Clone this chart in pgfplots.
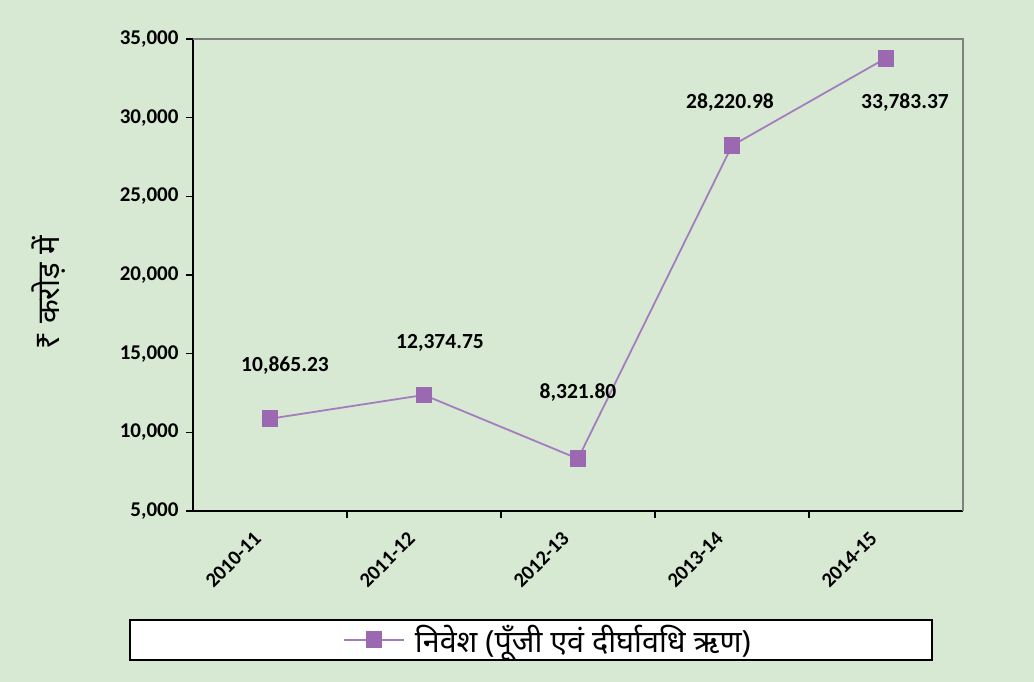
\documentclass[border=0pt]{standalone}
\usepackage{pgfplots}
\pgfplotsset{compat=1.18}
\usepackage{pgfplotstable}
\usepackage{fontspec}
\setmainfont{Carlito}
\newfontfamily\deva[Script=Devanagari]{Noto Sans}
\definecolor{bgc}{RGB}{215,232,211}
\definecolor{mk}{RGB}{155,105,178}
\definecolor{ln}{RGB}{165,125,190}
\pgfplotstableread{
x y lbl dx dy
0 10865.23 {10,865.23} 15 53
1 12374.75 {12,374.75} 16 52
2 8321.80 {8,321.80} 0 66
3 28220.98 {28,220.98} -2 43
4 33783.37 {33,783.37} 19 -44
}\datatab
\begin{document}
\begin{tikzpicture}[x=1pt,y=1pt]
\fill[bgc] (0,0) rectangle (1034,682);
\fill[white] (130,22) rectangle (932,62);
\draw[black, line width=1.6pt] (130,22) rectangle (932,62);
\begin{axis}[
  at={(193pt,171pt)}, anchor=south west,
  scale only axis, width=770pt, height=472pt,
  xmin=-0.5, xmax=4.5, ymin=5000, ymax=35000,
  axis x line*=bottom, axis y line*=left,
  axis line style={black, line width=1.4pt},
  xtick={0,1,2,3,4},
  xticklabels={2010-11,2011-12,2012-13,2013-14,2014-15},
  major x tick style={draw=none},
  minor xtick={0.5,1.5,2.5,3.5},
  minor x tick style={black, line width=1.2pt},
  minor tick length=7pt,
  ytick={5000,10000,...,35000},
  y tick style={black, line width=1.2pt},
  major tick length=7pt,
  tick align=outside,
  xticklabel style={rotate=45, anchor=east, font=\bfseries\fontsize{20.5}{22}\selectfont, xshift=-17.7pt, yshift=-3.5pt},
  yticklabel style={font=\bfseries\fontsize{21}{23}\selectfont, xshift=-4pt},
  /pgf/number format/.cd, 1000 sep={,}, assume math mode=true,
  /pgfplots/.cd,
  scaled y ticks=false,
  ylabel={\deva ₹ करोड़ में},
  ylabel style={font=\fontsize{31}{33}\selectfont, at={(axis description cs:-0.188,0.462)}, anchor=center},
  legend style={at={(axis description cs:0.461,-0.273)}, anchor=center, draw=none, fill=none,
    font=\fontsize{30.5}{32}\selectfont},
  legend image code/.code={
      \draw[ln, line width=2pt] (0pt,0pt) -- (60pt,0pt);
      \fill[mk] (22.5pt,-7.5pt) rectangle (37.5pt,7.5pt);
      \path (68pt,0pt);},
  clip=false,
]
\draw[gray, line width=1.2pt] (rel axis cs:0,1) -- (rel axis cs:1,1) -- (rel axis cs:1,0);
\addplot[ln, line width=1.8pt, mark=square*, mark size=7.5pt, mark options={mk, fill=mk, draw=mk},
  nodes near coords={\pgfplotspointmeta}, point meta=explicit symbolic,
  visualization depends on={\thisrow{dx}\as\dx},
  visualization depends on={\thisrow{dy}\as\dy},
  every node near coord/.append style={anchor=center, xshift=\dx pt, yshift=\dy pt, font=\bfseries\fontsize{21.5}{23}\selectfont, text=black}
] table[x=x, y=y, meta=lbl] {\datatab};
\addlegendentry{\deva निवेश (पूँजी एवं दीर्घावधि ऋण)}
\end{axis}
\end{tikzpicture}
\end{document}
